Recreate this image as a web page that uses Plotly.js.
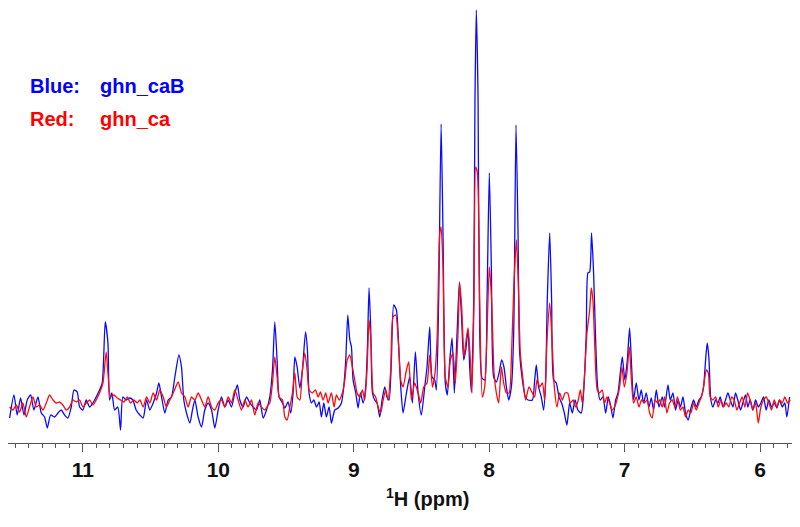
<!DOCTYPE html>
<html>
<head>
<meta charset="utf-8">
<script src="https://cdn.plot.ly/plotly-3.0.1.min.js"></script>
<style>html,body{margin:0;padding:0;background:#fff;}#chart{width:800px;height:527px;}</style>
</head>
<body>
<div id="chart"></div>
<script>
// Chemical shift (ppm) and intensity (arbitrary units)
const blueShift = [
11.541,11.509,11.485,11.460,11.435,11.411,11.386,11.362,11.332,11.307,11.283,11.263,11.238,11.209,11.184,11.160,11.135,11.111,11.086,11.066,11.042,11.024,11.000,10.975,10.951,10.926,10.902,10.877,10.857,10.835,10.815,10.803,10.786,10.766,10.742,10.722,10.705,10.680,10.655,10.631,10.607,
10.579,10.555,10.530,10.506,10.481,10.456,10.439,10.419,10.395,10.370,10.346,10.321,10.291,10.272,10.255,10.235,10.210,10.191,10.173,10.149,10.124,10.100,10.075,10.050,10.026,10.001,9.977,9.952,9.927,9.903,9.878,9.859,9.841,9.817,9.792,9.767,9.743,9.718,9.694,9.669,9.644,
9.620,9.600,9.583,9.566,9.551,9.526,9.509,9.485,9.465,9.448,9.435,9.418,9.398,9.379,9.356,9.342,9.330,9.312,9.295,9.275,9.256,9.239,9.221,9.202,9.182,9.165,9.140,9.115,9.091,9.074,9.059,9.044,9.029,9.017,9.005,8.985,8.968,8.951,8.931,8.912,8.899,8.887,8.875,8.862,8.845,8.828,8.808,8.791,8.771,8.754,8.739,8.722,8.705,8.685,8.668,8.653,
8.636,8.611,8.587,8.567,8.545,8.525,8.501,8.476,8.459,8.439,8.422,8.402,8.390,8.373,8.355,8.341,8.324,8.309,8.291,8.274,8.257,8.237,8.220,8.203,8.188,8.173,8.156,8.144,8.132,8.114,8.105,8.095,8.082,8.070,8.053,8.033,8.016,7.999,7.984,7.967,7.947,7.927,7.908,7.891,7.873,7.856,7.836,7.819,7.802,7.787,7.775,7.755,7.733,7.713,
7.681,7.664,7.652,7.635,7.615,7.598,7.583,7.571,7.553,7.539,7.524,7.504,7.485,7.465,7.445,7.426,7.406,7.386,7.366,7.345,7.320,7.303,7.283,7.271,7.258,7.244,7.229,7.214,7.199,7.180,7.160,7.140,7.120,7.101,7.086,7.066,7.049,7.032,7.017,6.998,6.980,6.963,6.948,6.934,6.914,6.894,6.877,6.860,6.840,6.820,6.803,6.786,6.766,6.746,
6.722,6.705,6.680,6.663,6.643,6.624,6.604,6.587,6.569,6.550,6.530,6.508,6.491,6.471,6.451,6.434,6.417,6.402,6.390,6.378,6.363,6.348,6.328,6.311,6.294,6.274,6.255,6.237,6.220,6.200,6.181,6.164,6.144,6.127,6.107,6.090,6.073,6.053,6.033,6.013,5.994,5.974,5.955,5.935,5.915,5.895,5.876,5.856,5.836,5.817,5.802,5.782
];
const blueIntensity = [
-13,10,-10,7,-10,5,10,-5,8,-8,-12,-23,-10,-12,-8,-5,-10,-13,-2,15,13,-2,-5,5,-2,2,8,15,22,83,62,5,12,-5,-2,-25,8,5,7,5,-5,
-10,-13,5,-5,2,12,22,8,-8,5,8,28,50,38,5,-8,-18,-5,5,-12,-22,-5,2,-5,-23,-5,8,-2,5,-2,12,20,5,-2,8,2,-2,-5,5,-13,-5,
8,35,83,45,8,2,-3,3,-8,12,48,38,17,35,73,55,12,2,5,-2,3,-12,2,-12,-2,-18,-5,-3,2,18,45,90,65,58,25,12,-3,12,2,18,58,117,78,12,5,2,-12,5,18,8,5,45,100,95,58,18,
-8,12,28,2,53,12,-10,18,38,78,28,25,15,105,281,172,22,10,45,67,12,72,123,85,45,55,75,38,13,105,305,395,305,72,27,25,105,232,138,28,23,32,45,38,18,5,18,72,280,172,52,25,8,5,
5,25,40,18,8,-5,25,105,172,105,25,22,8,2,-8,-20,2,-8,5,-5,-8,12,72,132,133,172,132,65,18,5,8,-8,8,-2,-13,5,12,32,48,25,45,77,38,5,22,5,15,2,12,-2,7,-5,15,-2,
8,-2,20,5,12,-5,5,-2,8,-8,-15,-2,5,-2,5,8,18,45,62,48,5,-2,5,2,8,-2,5,12,5,-2,12,5,-5,2,10,-2,5,-5,5,-2,2,8,-5,5,-2,2,-3,5,-2,2,-12,8
];
const redShift = [
11.541,11.516,11.492,11.467,11.443,11.418,11.394,11.369,11.344,11.320,11.295,11.270,11.246,11.221,11.197,11.172,11.148,11.123,11.098,11.074,11.049,11.024,11.000,10.975,10.951,10.926,10.902,10.877,10.852,10.828,10.815,10.796,10.771,10.746,10.722,10.697,10.672,10.648,10.623,10.599,
10.579,10.555,10.530,10.506,10.481,10.456,10.432,10.407,10.383,10.358,10.333,10.296,10.272,10.247,10.223,10.198,10.173,10.149,10.124,10.100,10.075,10.050,10.026,10.001,9.977,9.952,9.927,9.903,9.878,9.854,9.829,9.804,9.780,9.755,9.731,9.706,9.681,9.657,9.632,
9.620,9.600,9.583,9.566,9.551,9.526,9.509,9.492,9.472,9.453,9.435,9.418,9.398,9.381,9.362,9.344,9.330,9.305,9.283,9.263,9.246,9.226,9.207,9.189,9.165,9.145,9.128,9.108,9.084,9.066,9.049,9.029,9.010,8.993,8.975,8.955,8.936,8.919,8.902,8.887,8.872,8.857,8.838,8.820,8.801,8.783,8.764,8.747,8.727,8.710,8.690,8.670,8.653,
8.636,8.611,8.594,8.574,8.550,8.525,8.506,8.483,8.459,8.439,8.419,8.400,8.383,8.365,8.355,8.341,8.324,8.304,8.287,8.267,8.250,8.230,8.218,8.203,8.186,8.173,8.156,8.139,8.127,8.112,8.100,8.087,8.070,8.051,8.033,8.016,7.999,7.982,7.964,7.947,7.930,7.910,7.893,7.873,7.853,7.834,7.817,7.799,7.785,7.770,7.750,7.731,7.706,
7.681,7.664,7.647,7.627,7.607,7.590,7.573,7.553,7.536,7.519,7.499,7.480,7.460,7.440,7.420,7.401,7.381,7.361,7.342,7.327,7.312,7.295,7.278,7.258,7.246,7.234,7.219,7.202,7.185,7.165,7.148,7.130,7.111,7.093,7.074,7.057,7.037,7.020,7.002,6.983,6.965,6.951,6.934,6.914,6.894,6.875,6.855,6.835,6.815,6.796,6.776,6.757,
6.742,6.722,6.705,6.688,6.668,6.648,6.629,6.609,6.589,6.569,6.550,6.530,6.511,6.491,6.471,6.451,6.434,6.417,6.397,6.382,6.368,6.348,6.328,6.309,6.289,6.269,6.250,6.230,6.210,6.191,6.171,6.151,6.132,6.112,6.092,6.073,6.053,6.033,6.013,5.994,5.974,5.955,5.935,5.915,5.895,5.876,5.856,5.836,5.817,5.797,5.777
];
const redIntensity = [
-2,-5,0,-7,2,-12,-2,8,-2,0,-5,2,10,5,2,3,0,-5,-2,5,3,5,-2,2,5,0,5,12,22,53,32,8,10,7,5,3,8,2,5,2,
5,-2,8,2,12,5,15,8,-2,5,12,23,12,8,-2,8,5,12,5,-2,8,-2,-5,2,5,-2,8,2,15,5,-5,5,-2,5,-10,2,-2,-5,0,
2,22,48,28,8,5,-12,-15,-2,12,32,8,5,32,52,35,15,12,15,8,13,5,12,2,12,-2,10,5,12,25,45,50,38,25,12,8,15,5,35,85,62,12,8,-2,-8,5,15,5,35,88,90,62,25,
18,35,43,5,22,12,2,18,22,50,18,32,72,172,178,138,28,18,45,52,22,72,122,98,48,62,77,45,12,105,238,232,105,8,18,72,138,105,32,12,2,38,22,12,12,55,122,165,122,52,25,5,18,
12,8,25,18,22,5,65,102,65,18,-2,12,5,12,12,2,5,-2,5,15,2,32,72,95,117,105,55,15,12,15,2,8,2,-5,-2,5,18,38,18,32,58,28,2,8,-2,5,2,5,-8,-13,5,2,
5,-2,8,-8,2,5,-2,8,-5,-2,-12,-5,-8,2,-5,2,8,18,35,32,8,5,8,-2,5,-2,2,-2,8,5,-5,2,8,-2,12,5,-5,2,-18,-2,5,8,2,-5,5,-2,5,2,8,2,5
];
const xTickLabels = ['11','10','9','8','7','6'];
const xTickValues = [11,10,9,8,7,6];

const FONT = 'Liberation Sans, Arial, Helvetica, sans-serif';

const traces = [
  {x: blueShift, y: blueIntensity, type: 'scatter', mode: 'lines', name: 'ghn_caB',
   line: {color: 'rgb(10,10,255)', width: 1.3, shape: 'spline', smoothing: 0.6}, hoverinfo: 'skip'},
  {x: redShift, y: redIntensity, type: 'scatter', mode: 'lines', name: 'ghn_ca',
   line: {color: 'rgb(255,10,10)', width: 1.3, shape: 'spline', smoothing: 0.6}, hoverinfo: 'skip'}
];

const layout = {
  width: 800, height: 527,
  margin: {l: 8, r: 8, t: 0, b: 84},
  paper_bgcolor: '#ffffff', plot_bgcolor: '#ffffff',
  showlegend: false,
  xaxis: {
    range: [11.553, 5.764],
    tickmode: 'array', tickvals: xTickValues, ticktext: xTickLabels,
    ticks: 'outside', ticklen: 8, tickwidth: 1, tickcolor: '#555',
    showline: true, linecolor: '#555', linewidth: 1,
    showgrid: false, zeroline: false,
    tickfont: {family: FONT, size: 21, weight: 'bold', color: '#111'},
    minor: {dtick: 0.1, tick0: 0, ticks: 'outside', ticklen: 4, tickwidth: 1, tickcolor: '#555', showgrid: false}
  },
  yaxis: {range: [-38, 405], visible: false, showgrid: false, zeroline: false},
  annotations: [
    {xref: 'paper', yref: 'paper', x: 0.0255, y: 0.806, xanchor: 'left', yanchor: 'middle', showarrow: false,
     text: 'Blue:', font: {family: FONT, size: 20, weight: 'bold', color: '#0000ff'}},
    {xref: 'paper', yref: 'paper', x: 0.1148, y: 0.806, xanchor: 'left', yanchor: 'middle', showarrow: false,
     text: 'ghn_caB', font: {family: FONT, size: 20, weight: 'bold', color: '#0000ff'}},
    {xref: 'paper', yref: 'paper', x: 0.0255, y: 0.7314, xanchor: 'left', yanchor: 'middle', showarrow: false,
     text: 'Red:', font: {family: FONT, size: 20, weight: 'bold', color: '#ff0000'}},
    {xref: 'paper', yref: 'paper', x: 0.1148, y: 0.7314, xanchor: 'left', yanchor: 'middle', showarrow: false,
     text: 'ghn_ca', font: {family: FONT, size: 20, weight: 'bold', color: '#ff0000'}},
    {xref: 'paper', yref: 'paper', x: 0.5357, y: -0.1219, xanchor: 'center', yanchor: 'middle', showarrow: false,
     text: '<sup>1</sup>H (ppm)', font: {family: FONT, size: 20, weight: 'bold', color: '#111'}}
  ]
};

Plotly.newPlot('chart', traces, layout, {displayModeBar: false, staticPlot: true});
</script>
</body>
</html>
